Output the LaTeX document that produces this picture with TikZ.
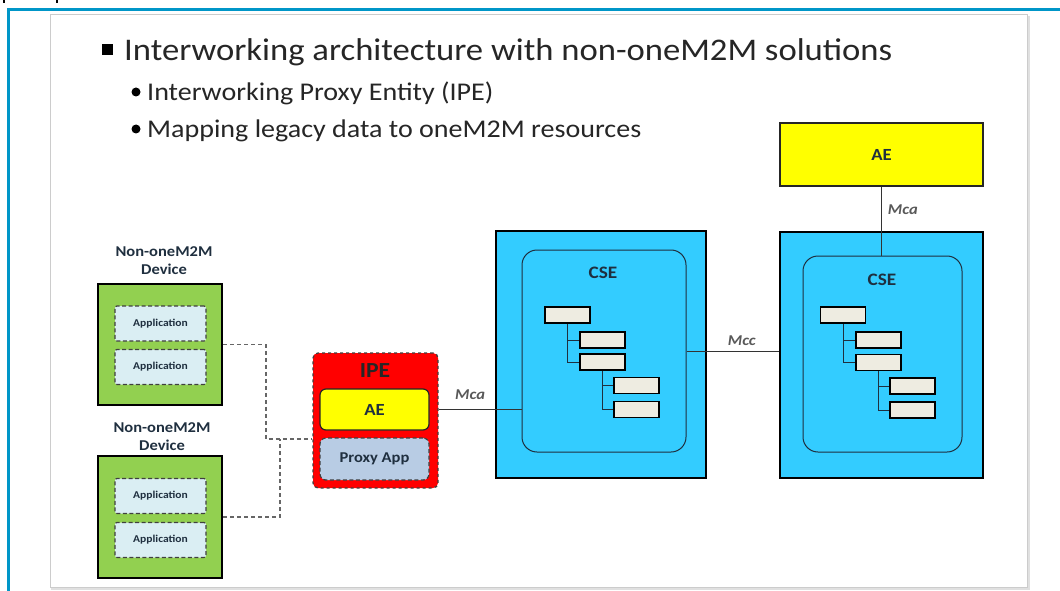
\documentclass[tikz,border=0pt]{standalone}
\usepackage{fontspec}
\setmainfont{Carlito}[FakeStretch=1.1]
\definecolor{devgreen}{HTML}{92D050}
\definecolor{appblue}{HTML}{DAEEF3}
\definecolor{cseblue}{HTML}{33CCFF}
\definecolor{aeyellow}{HTML}{FFFF00}
\definecolor{ipered}{HTML}{FF0000}
\definecolor{proxyblue}{HTML}{B8CCE4}
\definecolor{resfill}{HTML}{EEECE1}
\definecolor{framecol}{HTML}{0096C8}
\definecolor{labelcol}{HTML}{1F2F3F}
\definecolor{textcol}{HTML}{262626}
\tikzset{
  devbox/.style={draw=black, line width=2.5pt, fill=devgreen, minimum width=124, minimum height=121},
  appbox/.style={draw=black!75, dash pattern=on 4pt off 2.5pt, line width=1.2pt, fill=appblue, rounded corners=2pt,
                 minimum width=91, minimum height=35, font=\bfseries\fontsize{10.5}{12}\selectfont, text=labelcol},
  csebox/.style={draw=black, line width=2.5pt, fill=cseblue},
  cseinner/.style={draw=labelcol, line width=1pt, rounded corners=15pt},
  resbox/.style={draw=black, line width=1.6pt, fill=resfill, minimum width=45, minimum height=16, inner sep=0pt},
  aebox/.style={draw=black!85, line width=1.2pt, fill=aeyellow, font=\bfseries\fontsize{17}{19}\selectfont, text=labelcol},
  ifname/.style={font=\bfseries\itshape\fontsize{15}{17}\selectfont, text=black!65, inner sep=0pt},
}
\begin{document}
\begin{tikzpicture}[x=1pt,y=-1pt]
\useasboundingbox (0,0) rectangle (1060,591);
% frame and slide
\draw[framecol, line width=2.5pt] (1060,9.5) -- (8.5,9.5) -- (8.5,591);
\draw[black, line width=1.5pt] (4,0) -- (4,3) (57,0) -- (57,3);
\draw[black!12, line width=2pt] (52,17) rectangle (1029,589);
\draw[black!20, fill=white, line width=1pt] (50,15) rectangle (1027,587);

% title and bullets
\begin{scope}[every node/.style={anchor=base west, inner sep=0pt, text=textcol}]
    \node (Title) at (124,61) {\fontsize{31.5}{33}\selectfont Interworking architecture with non-oneM2M solutions};
    \node (SubA) at (147,101) {\fontsize{25.5}{27}\selectfont Interworking Proxy Entity (IPE)};
    \node (SubB) at (147,138) {\fontsize{25.5}{27}\selectfont Mapping legacy data to oneM2M resources};
\end{scope}
\fill[black] (102,44) rectangle (113,55);
\fill[black] (136,92) circle (4.5);
\fill[black] (136,129) circle (4.5);

% non-oneM2M devices
\begin{scope}[every node/.style={align=center, inner sep=0pt, text=labelcol,
              font=\bfseries\fontsize{15}{18}\selectfont}]
    \node (LabA) at (164,261) {Non-oneM2M\\Device};
    \node (LabB) at (162,437) {Non-oneM2M\\Device};
\end{scope}
\node[devbox] (DevA) at (160,344.5) {};
\node[devbox, minimum height=122] (DevB) at (160,517) {};
\node[appbox] (AppA1) at (160.5,323.5) {Application};
\node[appbox] (AppA2) at (160.5,367) {Application};
\node[appbox] (AppB1) at (160.5,496) {Application};
\node[appbox] (AppB2) at (160.5,540) {Application};

% IPE
\node[draw=black!75, dashed, line width=1.3pt, fill=ipered, rounded corners=5pt,
      minimum width=125, minimum height=135] (IPE) at (375.5,420.5) {};
\node[inner sep=0pt, font=\bfseries\fontsize{21.5}{23}\selectfont, text=black!85] (IPELab) at (375,371) {IPE};
\node[aebox, rounded corners=6pt, minimum width=109, minimum height=41] (IPEAE) at (374.5,409.5) {AE};
\node[draw=black!75, dash pattern=on 4pt off 2.5pt, line width=1.2pt, fill=proxyblue, rounded corners=6pt,
      minimum width=109, minimum height=42, font=\bfseries\fontsize{15}{17}\selectfont, text=labelcol]
      (Proxy) at (374.5,459) {Proxy App};

% CSEs
\node[csebox, minimum width=210, minimum height=247] (CSEA) at (601,354.5) {};
\node[cseinner, minimum width=164, minimum height=202] (CSEAin) at (604,351) {};
\node[csebox, minimum width=203, minimum height=246] (CSEB) at (881.5,355) {};
\node[cseinner, minimum width=159, minimum height=196] (CSEBin) at (882.5,354) {};
\node[aebox, minimum width=203, minimum height=63, line width=1.5pt] (TopAE) at (881.5,154.5) {AE};
\begin{scope}[every node/.style={inner sep=0pt, text=labelcol, font=\bfseries\fontsize{17.5}{19}\selectfont}]
    \node (CSEALab) at (603,273) {CSE};
    \node (CSEBLab) at (882,280) {CSE};
\end{scope}

% resource trees
\node[resbox] (RA1) at (567.5,315) {};
\node[resbox] (RA2) at (602.5,340) {};
\node[resbox] (RA3) at (602.5,362) {};
\node[resbox] (RA4) at (636.5,385.5) {};
\node[resbox] (RA5) at (636.5,409.5) {};
\node[resbox] (RB1) at (843,315) {};
\node[resbox] (RB2) at (878.5,340) {};
\node[resbox] (RB3) at (878.5,362.5) {};
\node[resbox] (RB4) at (912.5,386) {};
\node[resbox] (RB5) at (912.5,410) {};
\begin{scope}[labelcol, line width=1pt]
    \draw (RA1.south) |- (RA2.west) (RA1.south) |- (RA3.west);
    \draw (RA3.south) |- (RA4.west) (RA3.south) |- (RA5.west);
    \draw (RB1.south) |- (RB2.west) (RB1.south) |- (RB3.west);
    \draw (RB3.south) |- (RB4.west) (RB3.south) |- (RB5.west);
\end{scope}

% legacy links
\coordinate (JoinA) at (266,439);
\coordinate (JoinB) at (280,439);
\begin{scope}[black!60, dash pattern=on 4pt off 3pt, line width=1.2pt]
    \draw (DevA.east) -| (JoinA) -- (IPE.west |- JoinA);
    \draw (DevB.east) -| (JoinB);
\end{scope}

% reference points
\begin{scope}[every edge/.style={draw=black!80, line width=0.8pt}]
    \path (IPE.east |- IPEAE) edge node[ifname, above=9pt, pos=0.38] {Mca} (CSEAin.west |- IPEAE);
    \path (CSEAin.east) edge node[ifname, above=5pt, pos=0.6] {Mcc} (CSEB.west |- CSEAin.east);
    \path (TopAE.south) edge node[ifname, right=6pt, pos=0.33] {Mca} (TopAE.south |- CSEBin.north);
\end{scope}
\end{tikzpicture}
\end{document}
